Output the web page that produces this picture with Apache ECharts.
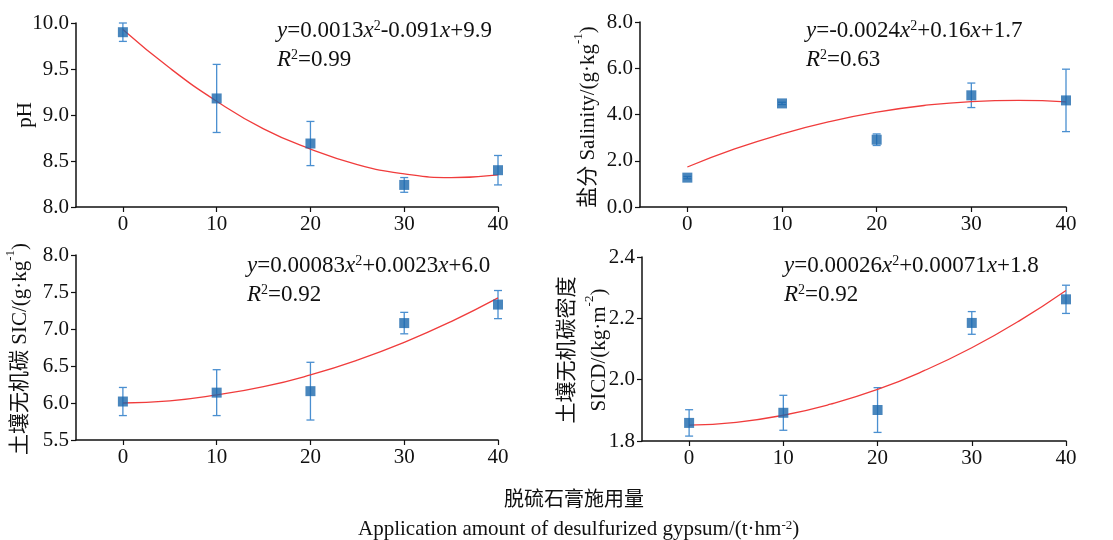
<!DOCTYPE html>
<html><head><meta charset="utf-8">
<script src="https://cdn.jsdelivr.net/npm/echarts@6/dist/echarts.min.js"></script>
<style>html,body{margin:0;padding:0;background:#fff}#c{width:1113px;height:540px}</style>
</head><body><div id="c"></div>
<script>
// ---- data ----
const doses = [0, 10, 20, 30, 40];
const xTicks = [0, 10, 20, 30, 40];
const fitX = [0, 5, 10, 15, 20, 25, 30, 35, 40];

const phMean = [9.90, 9.18, 8.69, 8.24, 8.40];
const phErr  = [0.10, 0.37, 0.24, 0.08, 0.16];
const phFit  = [9.93, 9.51, 9.15, 8.85, 8.63, 8.46, 8.36, 8.32, 8.35];

const salMean = [1.27, 4.48, 2.91, 4.83, 4.61];
const salErr  = [0.05, 0.05, 0.25, 0.53, 1.35];
const salFit  = [1.73, 2.51, 3.16, 3.69, 4.10, 4.39, 4.56, 4.61, 4.55];

const sicMean = [6.02, 6.14, 6.16, 7.08, 7.33];
const sicErr  = [0.19, 0.31, 0.39, 0.145, 0.19];
const sicFit  = [6.00, 6.03, 6.11, 6.22, 6.38, 6.58, 6.82, 7.10, 7.42];

const sicdMean = [1.859, 1.892, 1.901, 2.185, 2.262];
const sicdErr  = [0.043, 0.057, 0.073, 0.037, 0.046];
const sicdFit  = [1.852, 1.861, 1.884, 1.920, 1.968, 2.030, 2.104, 2.191, 2.291];

const equations = [
  '{i|y}=0.0013{i|x}{s|2}-0.091{i|x}+9.9',
  '{i|y}=-0.0024{i|x}{s|2}+0.16{i|x}+1.7',
  '{i|y}=0.00083{i|x}{s|2}+0.0023{i|x}+6.0',
  '{i|y}=0.00026{i|x}{s|2}+0.00071{i|x}+1.8'
];
const r2 = ['0.99', '0.63', '0.92', '0.92'];
const yNames = [
  'pH',
  '盐分 Salinity/(g·kg{s|-1})',
  '土壤无机碳 SIC/(g·kg{s|-1})',
  '土壤无机碳密度\nSICD/(kg·m{s|-2})'
];
const yRanges = [[8, 10, 0.5], [0, 8, 2], [5.5, 8, 0.5], [1.8, 2.4, 0.2]];
const xTitleCn = '脱硫石膏施用量';
const xTitleEn = 'Application amount of desulfurized gypsum/(t·hm{s|-2})';
// --------------------------------------

const FONT = '"Liberation Serif", "Noto Sans CJK SC", serif';
const grids = [
  {left: 76, top: 23, width: 422, height: 184, outerBoundsMode: 'none', containLabel: false},
  {left: 640, top: 22, width: 426, height: 185, outerBoundsMode: 'none', containLabel: false},
  {left: 76, top: 255, width: 422, height: 185, outerBoundsMode: 'none', containLabel: false},
  {left: 642, top: 257, width: 424, height: 184, outerBoundsMode: 'none', containLabel: false}
];
const namePos = [[25, 115], [588, 117], [20, 349], [583, 350]];
const means = [phMean, salMean, sicMean, sicdMean];
const errs = [phErr, salErr, sicErr, sicdErr];
const fits = [phFit, salFit, sicFit, sicdFit];
const eqPos = [[277, 19], [806, 19], [247, 254], [784, 254]];

const xAxes = grids.map((g, i) => ({
  gridIndex: i, type: 'value', min: -5, max: 40,
  axisLine: {show: true, onZero: false, lineStyle: {color: '#111', width: 1.5}},
  axisTick: {show: true, customValues: xTicks, length: 5, lineStyle: {color: '#111', width: 1.2}},
  axisLabel: {customValues: xTicks, fontSize: 21, fontFamily: FONT, color: '#111', margin: 7},
  splitLine: {show: false}
}));
const yAxes = grids.map((g, i) => ({
  gridIndex: i, type: 'value', min: yRanges[i][0], max: yRanges[i][1], interval: yRanges[i][2],
  axisLine: {show: true, onZero: false, lineStyle: {color: '#111', width: 1.5}},
  axisTick: {show: true, length: 5, lineStyle: {color: '#111', width: 1.2}},
  axisLabel: {fontSize: 21, fontFamily: FONT, color: '#111', margin: 7,
    formatter: v => v.toFixed(1)},
  splitLine: {show: false}
}));

const series = [];
for (let i = 0; i < 4; i++) {
  series.push({
    type: 'custom', xAxisIndex: i, yAxisIndex: i, silent: true, z: 3,
    data: doses.map((d, k) => [d, means[i][k] - errs[i][k], means[i][k] + errs[i][k]]),
    renderItem: (params, api) => {
      const lo = api.coord([api.value(0), api.value(1)]);
      const hi = api.coord([api.value(0), api.value(2)]);
      const w = 4;
      const st = {stroke: '#4a8fd0', lineWidth: 1.3};
      return {type: 'group', children: [
        {type: 'line', shape: {x1: lo[0], y1: lo[1], x2: hi[0], y2: hi[1]}, style: st},
        {type: 'line', shape: {x1: lo[0] - w, y1: lo[1], x2: lo[0] + w, y2: lo[1]}, style: st},
        {type: 'line', shape: {x1: hi[0] - w, y1: hi[1], x2: hi[0] + w, y2: hi[1]}, style: st}
      ]};
    }
  });
  series.push({
    type: 'line', xAxisIndex: i, yAxisIndex: i, smooth: 0.5, symbol: 'none', silent: true, z: 4,
    data: fitX.map((x, k) => [x, fits[i][k]]),
    lineStyle: {color: '#f03c3c', width: 1.3}
  });
  series.push({
    type: 'scatter', xAxisIndex: i, yAxisIndex: i, symbol: 'rect', symbolSize: 10, z: 5,
    data: doses.map((d, k) => [d, means[i][k]]),
    itemStyle: {color: '#1b68ad'}
  });
}

const eqRich = {
  i: {fontStyle: 'italic', fontSize: 23, fontFamily: FONT, fill: '#111'},
  s: {fontSize: 14, verticalAlign: 'top', lineHeight: 14, fontFamily: FONT, fill: '#111'}
};
const nameRich = {s: {fontSize: 13, verticalAlign: 'top', lineHeight: 14, fontFamily: FONT, fill: '#111'}};
const graphics = [];
for (let i = 0; i < 4; i++) {
  graphics.push({type: 'text', left: eqPos[i][0], top: eqPos[i][1], silent: true,
    style: {text: equations[i], fontSize: 23, fontFamily: FONT, fill: '#111', rich: eqRich}});
  graphics.push({type: 'text', left: eqPos[i][0], top: eqPos[i][1] + 29, silent: true,
    style: {text: '{i|R}{s|2}=' + r2[i], fontSize: 23, fontFamily: FONT, fill: '#111', rich: eqRich}});
  graphics.push({type: 'text', x: namePos[i][0], y: namePos[i][1], rotation: Math.PI / 2, silent: true,
    style: {text: yNames[i], fontSize: 21, fontFamily: FONT, fill: '#111', lineHeight: 32,
      align: 'center', verticalAlign: 'middle', rich: nameRich}});
}
graphics.push({type: 'text', left: 504, top: 491, silent: true,
  style: {text: xTitleCn, fontSize: 20, fontFamily: FONT, fill: '#111'}});
graphics.push({type: 'text', left: 358, top: 519, silent: true,
  style: {text: xTitleEn, fontSize: 21, fontFamily: FONT, fill: '#111', rich: {s: {fontSize: 13, verticalAlign: 'top', lineHeight: 12, fontFamily: FONT, fill: '#111'}}}});

const chart = echarts.init(document.getElementById('c'), null, {renderer: 'canvas'});
chart.setOption({
  animation: false,
  backgroundColor: '#fff',
  grid: grids,
  xAxis: xAxes,
  yAxis: yAxes,
  series: series,
  graphic: graphics
});
</script>
</body></html>
